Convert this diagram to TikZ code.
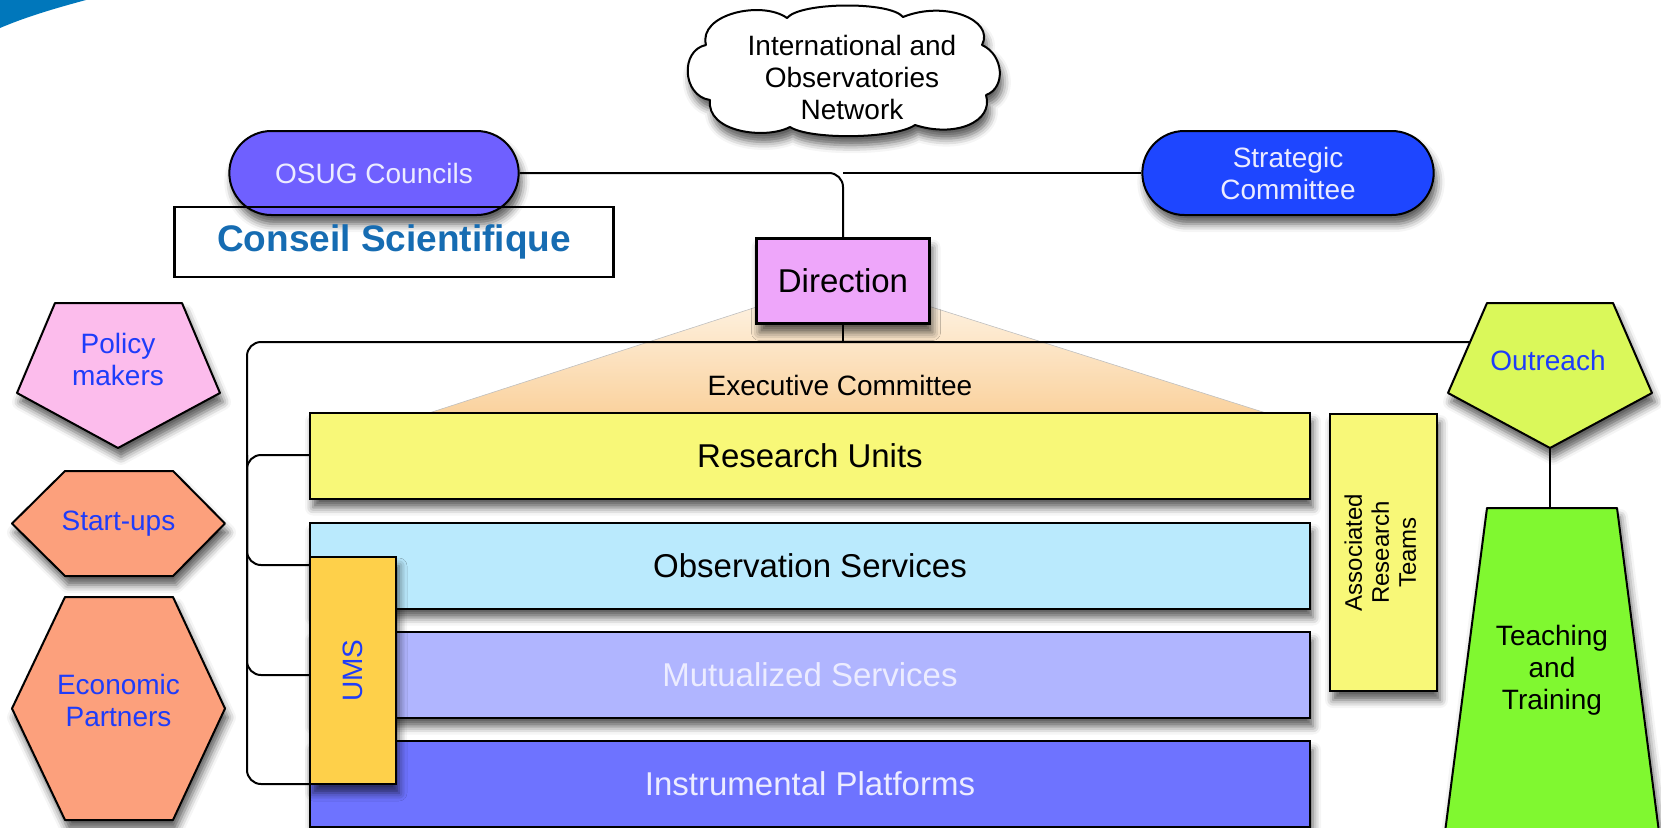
\documentclass[tikz,border=0pt]{standalone}
\usepackage{fontspec}
\setmainfont{Liberation Sans}
\usetikzlibrary{shapes.geometric}
\usetikzlibrary{shapes.misc}
\usetikzlibrary{shadows.blur}
\usetikzlibrary{positioning}

\definecolor{logoblue}{RGB}{0,119,187}
\definecolor{councilblue}{RGB}{111,96,255}
\definecolor{strategyblue}{RGB}{30,70,255}
\definecolor{conseilblue}{RGB}{22,108,178}
\definecolor{directionpink}{RGB}{238,166,250}
\definecolor{execlight}{RGB}{255,248,238}
\definecolor{execdark}{RGB}{250,210,158}
\definecolor{researchyellow}{RGB}{248,248,120}
\definecolor{obscyan}{RGB}{186,234,253}
\definecolor{mutualblue}{RGB}{176,181,255}
\definecolor{instrblue}{RGB}{110,115,255}
\definecolor{lighttext}{RGB}{236,236,255}
\definecolor{umsgold}{RGB}{254,208,74}
\definecolor{outreachlime}{RGB}{218,248,90}
\definecolor{teachgreen}{RGB}{128,248,48}
\definecolor{policypink}{RGB}{252,188,236}
\definecolor{partnerorange}{RGB}{252,160,124}
\definecolor{textblue}{RGB}{30,60,250}

\begin{document}
\begin{tikzpicture}[
    x=1pt, y=-1pt,
    font=\fontsize{28}{32}\selectfont
]
\tikzset{
    soft/.style = {blur shadow={shadow xshift=3pt, shadow yshift=-9pt, shadow blur radius=8pt, shadow opacity=65}},
    pill/.style = {rounded rectangle, draw=black, line width=2pt, minimum width=296, minimum height=84, align=center, text=lighttext, soft},
    unitbox/.style = {rectangle, draw=black, line width=2pt, minimum width=1000, minimum height=86, font=\fontsize{33}{38}\selectfont, soft},
    polyshape/.style = {draw=black, line width=2pt, line join=round, soft},
    link/.style = {draw=black, line width=2pt, rounded corners=14pt}
}
\useasboundingbox (0,0) rectangle (1661,827);
\clip (0,0) rectangle (1661,827);

% corner of the logo
\fill[logoblue] (0,0) -- (86,0) .. controls (60,7) and (28,16) .. (0,28) -- cycle;

% executive committee fan
\shade[top color=execlight, bottom color=execdark, draw=black!25, line width=0.6pt]
    (843,279) -- (429,413) -- (1266,413) -- cycle;
\node (exec) at (840,385) {Executive Committee};

% top level
\filldraw[polyshape, fill=white]
    (787,18) .. controls (800,2) and (890,1) .. (903,17)
    .. controls (945,0) and (995,20) .. (982,45)
    .. controls (1004,55) and (1006,88) .. (986,95)
    .. controls (994,122) and (955,138) .. (915,125)
    .. controls (895,139) and (810,140) .. (790,127)
    .. controls (765,140) and (706,132) .. (710,100)
    .. controls (682,96) and (680,50) .. (706,45)
    .. controls (698,14) and (762,0) .. cycle;
\node[align=center] (network) at (852,77) {International and\\Observatories\\Network};

\node[pill, fill=councilblue] (osug) at (374,173) {OSUG Councils};
\node[pill, fill=strategyblue, minimum width=298] (strategic) at (1288,173) {Strategic\\Committee};
\node[draw=black, line width=2.5pt, minimum width=439, minimum height=70,
      font=\bfseries\fontsize{37}{40}\selectfont, text=conseilblue] (conseil) at (394,242) {Conseil Scientifique};

\coordinate (hub) at (843,342);
\coordinate (trunk) at (247,342);
\coordinate (outreach-w) at (1470,342);
\coordinate (outreach-s) at (1550,448);
\coordinate (teaching-n) at (1550,508);

% connectors
\draw[link] (osug.east) -| (843,238);
\draw[link] (strategic.west) -- (843,173);
\draw[link] (843,323) -- (hub);
\draw[link] (outreach-w) -- (trunk) |- (310,784);
\draw[link] (310,455) -| (trunk |- 0,565) -- (310,565);
\draw[link] (trunk |- 0,455) |- (310,675);
\draw[link] (outreach-s) -- (teaching-n);

\node[draw=black, line width=2.5pt, fill=directionpink, minimum width=173, minimum height=85,
      font=\fontsize{33}{38}\selectfont, soft] (direction) at (843,281) {Direction};

% units
\node[unitbox, fill=researchyellow] (research) at (810,455.5) {Research Units};
\node[unitbox, fill=obscyan] (observation) at (810,565.5) {Observation Services};
\node[unitbox, fill=mutualblue, text=lighttext] (mutualized) at (810,674.5) {Mutualized Services};
\node[unitbox, fill=instrblue, text=lighttext] (instrumental) at (810,784) {Instrumental Platforms};
\node[draw=black, line width=2pt, fill=umsgold, minimum width=86, minimum height=227,
      text=textblue, soft] (ums) at (353,670.5) {\rotatebox{90}{UMS}};
\node[draw=black, line width=2pt, fill=researchyellow, minimum width=107, minimum height=277,
      font=\fontsize{24}{27}\selectfont, soft] (teams) at (1383.5,552.5)
      {\rotatebox{90}{\begin{tabular}{@{}c@{}}Associated\\Research\\Teams\end{tabular}}};

% right side
\filldraw[polyshape, fill=outreachlime] (1487,303) -- (1613,303) -- (1652,393) -- (1550,448) -- (1448,393) -- cycle;
\node[text=textblue] (outreach) at (1548,360) {Outreach};
\filldraw[polyshape, fill=teachgreen] (1487,508) -- (1617,508) -- (1660,840) -- (1444,840) -- cycle;
\node[align=center] (teaching) at (1552,670) {Teaching\\and\\Training};

% left side
\filldraw[polyshape, fill=policypink] (55,303) -- (182,303) -- (220,393) -- (118,448) -- (17,393) -- cycle;
\node[text=textblue, align=center] (policy) at (118,359) {Policy\\makers};
\filldraw[polyshape, fill=partnerorange] (65,471) -- (173,471) -- (225,523.5) -- (173,576) -- (65,576) -- (12,523.5) -- cycle;
\node[text=textblue] (startups) at (118.5,523.5) {Start-ups};
\filldraw[polyshape, fill=partnerorange] (65,597) -- (173,597) -- (225,708.5) -- (173,820) -- (65,820) -- (12,708.5) -- cycle;
\node[text=textblue, align=center] (economic) at (118.5,700) {Economic\\Partners};
\end{tikzpicture}
\end{document}
